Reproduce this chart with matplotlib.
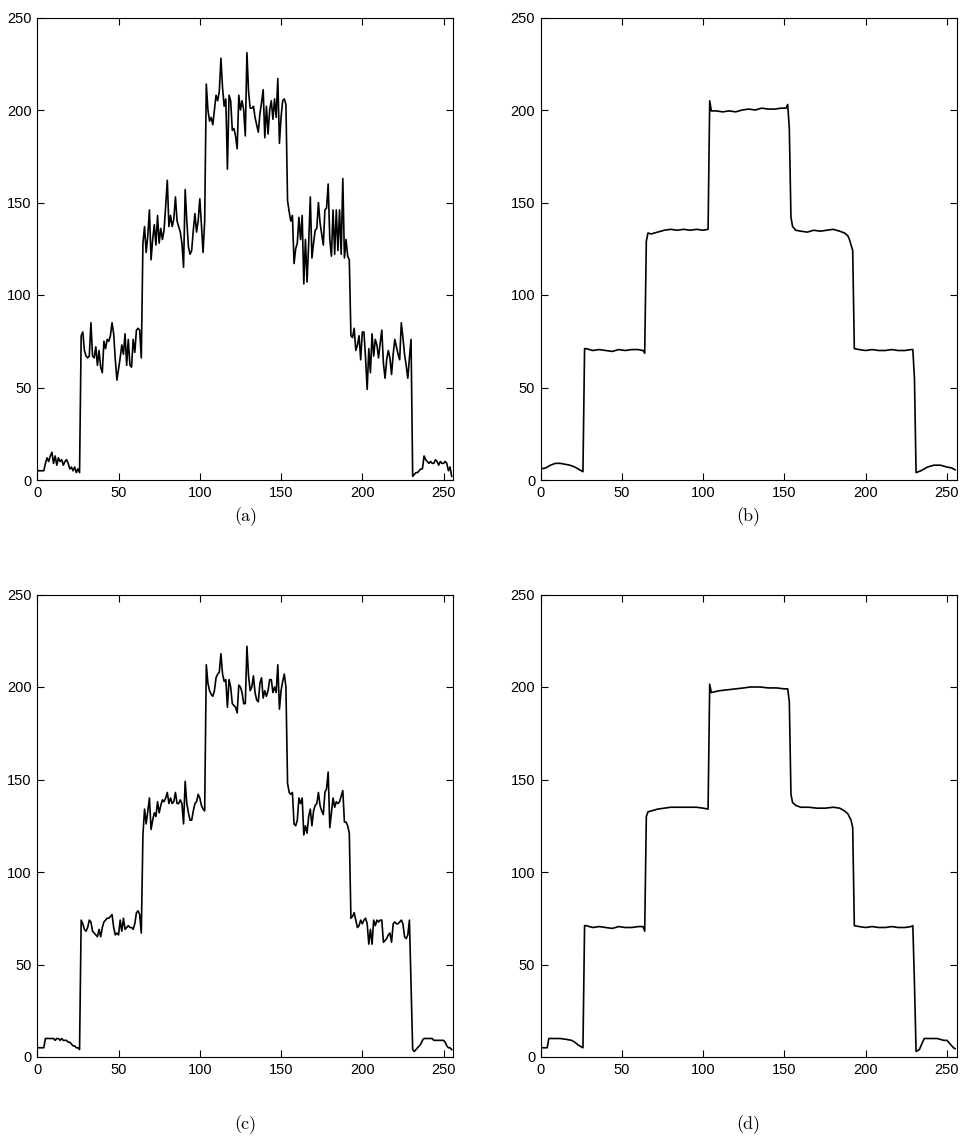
import matplotlib
matplotlib.use('Agg')
import matplotlib.pyplot as plt
import numpy as np

plt.rcParams['font.family'] = ['Liberation Sans', 'DejaVu Sans']

# sample index 0..255
x = np.arange(256)

# (a) noisy signal
signal_a = [5, 5, 5, 5, 5, 9, 12, 10, 13, 15, 9, 13, 8, 12, 10, 11, 8, 10, 11, 9, 6, 7, 5, 7, 4, 6, 4,
            78, 80, 70, 67, 66, 67, 85, 67, 66, 72, 62, 70, 61, 58, 75, 71, 76, 75, 78, 85,
            79, 65, 54, 60, 66, 73, 68, 79, 62, 76, 62, 61, 76, 69, 81, 82, 81, 66,
            128, 137, 123, 132, 146, 119, 130, 138, 127, 143, 128, 136, 130, 135, 148, 162, 137, 143, 137, 141,
            153, 140, 137, 134, 128, 115, 157, 140, 126, 122, 124, 135, 144, 134, 140, 152, 138, 123, 140,
            214, 200, 194, 196, 192, 200, 208, 205, 210, 228, 212, 202, 206, 168, 208, 205, 189, 190, 186, 179,
            208, 200, 205, 200, 186, 231, 210, 201, 201, 202, 196, 192, 188, 198, 204, 211, 185, 202, 187, 200,
            205, 195, 206, 196, 217, 182, 196, 205, 206, 203,
            151, 145, 140, 143, 117, 125, 128, 142, 130, 143, 106, 130, 107, 128, 153, 120, 128, 135, 136, 150,
            139, 133, 127, 146, 147, 160, 130, 121, 146, 122, 146, 124, 146, 122, 163, 120, 130, 121, 119,
            78, 77, 82, 70, 73, 78, 65, 80, 80, 66, 49, 71, 58, 79, 67, 76, 73, 66, 74, 81,
            63, 55, 65, 70, 66, 57, 68, 76, 72, 68, 65, 85, 77, 68, 62, 55, 66, 76,
            2, 3, 4, 4, 5, 6, 6, 13, 11, 10, 9, 10, 9, 9, 11, 10, 8, 10, 9, 9, 10, 9, 5, 7, 2]

# (c) noisy signal, milder
signal_c = [5, 5, 5, 5, 5, 10, 10, 10, 10, 10, 10, 9, 10, 10, 9, 10, 9, 9, 9, 8, 8, 7, 6, 6, 5, 5, 4,
            74, 72, 69, 68, 70, 74, 73, 68, 67, 66, 65, 69, 65, 70, 73, 74, 75, 75, 76, 77,
            70, 66, 67, 66, 74, 68, 75, 69, 70, 71, 70, 70, 69, 72, 78, 79, 77, 67,
            120, 134, 126, 133, 140, 123, 128, 132, 130, 138, 132, 136, 139, 138, 140, 143, 137, 140, 137, 138,
            143, 137, 137, 139, 137, 126, 149, 137, 132, 128, 128, 133, 137, 138, 142, 140, 136, 134, 133,
            212, 202, 198, 196, 195, 198, 205, 207, 208, 218, 207, 203, 204, 189, 204, 200, 191, 190, 189, 186,
            201, 200, 197, 191, 191, 222, 206, 198, 200, 206, 197, 193, 192, 202, 205, 194, 198, 195, 198, 204,
            204, 197, 200, 197, 212, 188, 198, 203, 207, 200,
            148, 143, 142, 143, 126, 125, 128, 140, 137, 140, 120, 125, 121, 130, 134, 125, 133, 136, 137, 143,
            136, 133, 131, 143, 145, 154, 124, 132, 140, 135, 138, 137, 138, 141, 144, 127, 127, 125, 121,
            75, 76, 78, 74, 70, 71, 74, 72, 74, 75, 72, 61, 69, 61, 74, 71, 74, 73, 74, 74,
            62, 63, 64, 66, 67, 62, 72, 73, 72, 72, 73, 74, 72, 65, 64, 66, 74, 40,
            4, 3, 4, 5, 6, 7, 9, 10, 10, 10, 10, 10, 10, 9, 9, 9, 9, 9, 9, 9, 8, 6, 5, 5, 4]

# (b) smooth result, key samples
b_x = [0, 3, 6, 9, 12, 15, 18, 21, 24, 26,
       27, 28, 32, 36, 40, 44, 48, 52, 56, 60, 63, 64,
       65, 66, 68, 72, 76, 80, 84, 88, 92, 96, 100, 103,
       104, 105, 108, 112, 116, 120, 124, 128, 132, 136, 140, 144, 148, 151, 152,
       153, 154, 155, 157, 160, 164, 168, 172, 176, 180, 184, 187, 189, 190, 191, 192,
       193, 196, 200, 204, 208, 212, 216, 220, 224, 228, 229,
       230, 231, 234, 238, 242, 246, 250, 253, 255]
b_y = [6, 6.5, 8, 9, 9, 8.5, 8, 7, 5.5, 4.5,
       71, 71, 70, 70.5, 70, 69.5, 70.5, 70, 70.5, 70.5, 70, 68.5,
       129, 133.5, 133, 134, 135, 135.5, 135, 135.5, 135, 135.5, 135, 135.5,
       205, 199.5, 199.5, 199, 199.5, 199, 200, 200.5, 200, 201, 200.5, 200.5, 201, 201, 203,
       190, 142, 137, 135, 134.5, 134, 135, 134.5, 135, 135.5, 134.5, 133.5, 132, 130, 127, 124,
       71, 70.5, 70, 70.5, 70, 70, 70.5, 70, 70, 70.5, 70.5,
       55, 4, 5, 7, 8, 8, 7, 6.5, 5.5]

# (d) smooth result, key samples
d_x = [0, 3, 4, 5, 8, 12, 16, 19, 21, 23, 25, 26,
       27, 28, 32, 36, 40, 44, 48, 52, 56, 60, 63, 64,
       65, 66, 68, 72, 76, 80, 84, 88, 92, 96, 100, 103,
       104, 105, 110, 115, 120, 125, 129, 135, 140, 145, 150, 152,
       153, 154, 155, 157, 160, 165, 170, 175, 180, 184, 187, 189, 191, 192,
       193, 196, 200, 204, 208, 212, 216, 220, 224, 228, 229,
       230, 231, 233, 235, 236, 240, 244, 246, 248, 250, 252, 254, 255]
d_y = [5, 5, 5, 10, 10, 10, 9.5, 9, 8, 6.5, 5.5, 5,
       71, 71, 70, 70.5, 70, 69.5, 70.5, 70, 70, 70.5, 70.5, 68,
       130, 132.5, 133, 134, 134.5, 135, 135, 135, 135, 135, 134.5, 134,
       201.5, 197, 198, 198.5, 199, 199.5, 200, 200, 199.5, 199.5, 199, 199,
       192, 142, 137.5, 136, 135, 135, 134.5, 134.5, 135, 134.5, 133, 131.5, 128, 124,
       71, 70.5, 70, 70.5, 70, 70, 70.5, 70, 70, 70.5, 71,
       40, 3, 4, 8, 10, 10, 10, 9.5, 9, 9, 7, 5, 4.5]

fig = plt.figure(figsize=(9.6, 11.43), dpi=100)

W, H = 960.0, 1143.0
ax_w, ax_h = 416 / W, 462.5 / H
lefts = [37.3 / W, 540.7 / W]
bottoms = [(H - 480) / H, (H - 1057) / H]

panels = [
    (lefts[0], bottoms[0], x, signal_a, '(a)', 517),
    (lefts[1], bottoms[0], b_x, b_y, '(b)', 517),
    (lefts[0], bottoms[1], x, signal_c, '(c)', 1125),
    (lefts[1], bottoms[1], d_x, d_y, '(d)', 1125),
]

for left, bottom, xs, ys, label, cap_y in panels:
    ax = fig.add_axes([left, bottom, ax_w, ax_h])
    ax.plot(xs, ys, color='black', lw=1.2)
    ax.set_xlim(0, 256)
    ax.set_ylim(0, 250)
    ax.set_xticks([0, 50, 100, 150, 200, 250])
    ax.set_yticks([0, 50, 100, 150, 200, 250])
    ax.tick_params(direction='in', top=True, right=True, length=5, width=0.8,
                   labelsize=10.5, pad=4, colors='black')
    for s in ax.spines.values():
        s.set_linewidth(0.8)
    fig.text(left + ax_w / 2, (H - cap_y) / H, label, ha='center', va='center',
             fontsize=13, family='cmr10')

fig.savefig('out.png', dpi=100)
